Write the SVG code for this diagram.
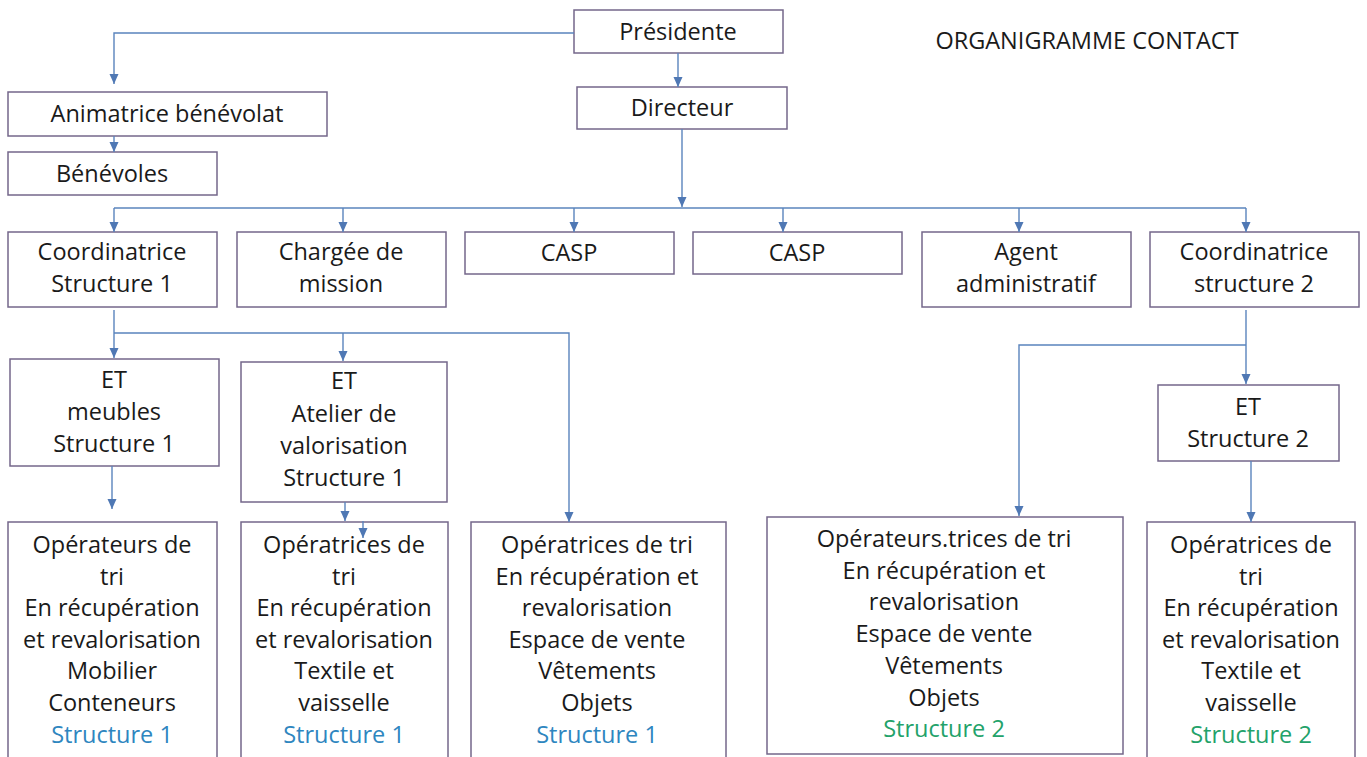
<svg xmlns="http://www.w3.org/2000/svg" width="1367" height="757" viewBox="0 0 1367 757">
<defs>
<marker id="ah" markerUnits="userSpaceOnUse" markerWidth="10" markerHeight="10" viewBox="0 0 10 10" refX="10" refY="5" orient="auto">
<path d="M0,0.5 L10,5 L0,9.5 Z" fill="#4f78b4"/>
</marker>
<style>
.box{fill:#fff;stroke:#74678a;stroke-width:1.5}
.t{font-family:"Open Sans","Noto Sans","Liberation Sans",sans-serif;font-size:23.5px;fill:#1a1a1a;text-anchor:middle}
.s1{fill:#2e86bf}
.s2{fill:#23a26a}
.c{fill:none;stroke:#5a84bd;stroke-width:1.4}
.a{marker-end:url(#ah)}
</style>
</defs>
<rect width="1367" height="757" fill="#fff"/>
<text class="t" x="1087" y="49">ORGANIGRAMME CONTACT</text>
<g id="presidente"><rect class="box" x="574" y="10" width="209" height="43"/><text class="t" x="678" y="40">Présidente</text></g>
<g id="directeur"><rect class="box" x="577" y="87" width="210" height="42"/><text class="t" x="682" y="116">Directeur</text></g>
<g id="animatrice"><rect class="box" x="8" y="92" width="319" height="44"/><text class="t" x="167" y="122">Animatrice bénévolat</text></g>
<g id="benevoles"><rect class="box" x="8" y="152" width="209" height="43"/><text class="t" x="112" y="182">Bénévoles</text></g>
<g id="coord1"><rect class="box" x="8" y="232" width="209" height="75"/><text class="t" x="112" y="260">Coordinatrice</text><text class="t" x="112" y="292">Structure 1</text></g>
<g id="chargee"><rect class="box" x="237" y="232" width="209" height="75"/><text class="t" x="341" y="260">Chargée de</text><text class="t" x="341" y="292">mission</text></g>
<g id="casp1"><rect class="box" x="465" y="232" width="209" height="42"/><text class="t" x="569" y="261">CASP</text></g>
<g id="casp2"><rect class="box" x="693" y="232" width="209" height="42"/><text class="t" x="797" y="261">CASP</text></g>
<g id="agent"><rect class="box" x="922" y="232" width="209" height="75"/><text class="t" x="1026" y="260">Agent</text><text class="t" x="1026" y="292">administratif</text></g>
<g id="coord2"><rect class="box" x="1150" y="232" width="209" height="75"/><text class="t" x="1254" y="260">Coordinatrice</text><text class="t" x="1254" y="292">structure 2</text></g>
<g id="et-meubles"><rect class="box" x="10" y="359" width="209" height="107"/><text class="t" x="114" y="388">ET</text><text class="t" x="114" y="420">meubles</text><text class="t" x="114" y="452">Structure 1</text></g>
<g id="et-atelier"><rect class="box" x="241" y="362" width="206" height="140"/><text class="t" x="344" y="389">ET</text><text class="t" x="344" y="422">Atelier de</text><text class="t" x="344" y="454">valorisation</text><text class="t" x="344" y="486">Structure 1</text></g>
<g id="et-s2"><rect class="box" x="1158" y="385" width="181" height="76"/><text class="t" x="1248" y="415">ET</text><text class="t" x="1248" y="447">Structure 2</text></g>
<g id="op1"><rect class="box" x="8" y="522" width="209" height="250"/>
<text class="t" x="112" y="553">Opérateurs de</text><text class="t" x="112" y="585">tri</text><text class="t" x="112" y="616">En récupération</text><text class="t" x="112" y="648">et revalorisation</text><text class="t" x="112" y="679">Mobilier</text><text class="t" x="112" y="711">Conteneurs</text><text class="t s1" x="112" y="743">Structure 1</text></g>
<g id="op2"><rect class="box" x="241" y="522" width="207" height="250"/>
<text class="t" x="344" y="553">Opératrices de</text><text class="t" x="344" y="585">tri</text><text class="t" x="344" y="616">En récupération</text><text class="t" x="344" y="648">et revalorisation</text><text class="t" x="344" y="679">Textile et</text><text class="t" x="344" y="711">vaisselle</text><text class="t s1" x="344" y="743">Structure 1</text></g>
<g id="op3"><rect class="box" x="471" y="522" width="255" height="250"/>
<text class="t" x="597" y="553">Opératrices de tri</text><text class="t" x="597" y="585">En récupération et</text><text class="t" x="597" y="616">revalorisation</text><text class="t" x="597" y="648">Espace de vente</text><text class="t" x="597" y="679">Vêtements</text><text class="t" x="597" y="711">Objets</text><text class="t s1" x="597" y="743">Structure 1</text></g>
<g id="op4"><rect class="box" x="767" y="517" width="356" height="237"/>
<text class="t" x="944" y="547">Opérateurs.trices de tri</text><text class="t" x="944" y="579">En récupération et</text><text class="t" x="944" y="610">revalorisation</text><text class="t" x="944" y="642">Espace de vente</text><text class="t" x="944" y="674">Vêtements</text><text class="t" x="944" y="706">Objets</text><text class="t s2" x="944" y="737">Structure 2</text></g>
<g id="op5"><rect class="box" x="1147" y="522" width="208" height="250"/>
<text class="t" x="1251" y="553">Opératrices de</text><text class="t" x="1251" y="585">tri</text><text class="t" x="1251" y="616">En récupération</text><text class="t" x="1251" y="648">et revalorisation</text><text class="t" x="1251" y="679">Textile et</text><text class="t" x="1251" y="711">vaisselle</text><text class="t s2" x="1251" y="743">Structure 2</text></g>
<g id="connectors">
<path class="c a" d="M574,33 H114 V84"/>
<path class="c a" d="M114,136 V152"/>
<path class="c a" d="M678,53 V87"/>
<path class="c a" d="M682,129 V207"/>
<path class="c" d="M114,208 H1246"/>
<path class="c a" d="M114,208 V232"/>
<path class="c a" d="M343,208 V232"/>
<path class="c a" d="M574,208 V232"/>
<path class="c a" d="M783,208 V232"/>
<path class="c a" d="M1019,208 V232"/>
<path class="c a" d="M1246,208 V232"/>
<path class="c a" d="M114,310 V358"/>
<path class="c a" d="M114,333 H569 V522"/>
<path class="c a" d="M343,333 V361"/>
<path class="c a" d="M112,466 V509"/>
<path class="c a" d="M345,502 V521"/>
<path class="c a" d="M363,521 V538"/>
<path class="c a" d="M1246,310 V384"/>
<path class="c a" d="M1246,345 H1019 V516"/>
<path class="c a" d="M1251,461 V522"/>
</g>
</svg>
